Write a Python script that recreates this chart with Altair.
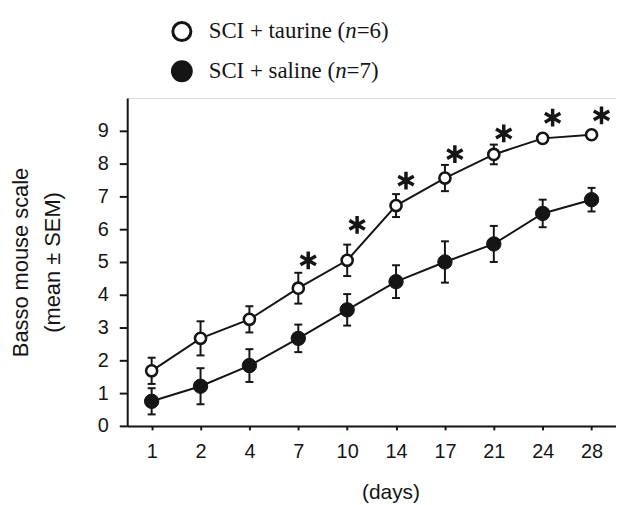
import altair as alt
import pandas as pd

# ---- data ----
days = ["1", "2", "4", "7", "10", "14", "17", "21", "24", "28"]
taurine_mean = [1.68, 2.67, 3.25, 4.20, 5.05, 6.72, 7.56, 8.28, 8.77, 8.88]
taurine_sem = [0.40, 0.52, 0.40, 0.47, 0.48, 0.35, 0.40, 0.30, 0.12, 0.12]
saline_mean = [0.75, 1.21, 1.84, 2.67, 3.54, 4.40, 5.00, 5.55, 6.48, 6.90]
saline_sem = [0.40, 0.55, 0.50, 0.42, 0.48, 0.50, 0.63, 0.55, 0.42, 0.36]
star_days = ["7", "10", "14", "17", "21", "24", "28"]
star_y = [5.05, 6.13, 7.48, 8.29, 8.92, 9.40, 9.47]
y_ticks = [0, 1, 2, 3, 4, 5, 6, 7, 8, 9]

INK = "#151515"
SANS = "Liberation Sans"
SERIF = "Liberation Serif"

rows = []
for d, m, s in zip(days, taurine_mean, taurine_sem):
    rows.append({"day": d, "group": "taurine", "mean": m, "lo": m - s, "hi": m + s})
for d, m, s in zip(days, saline_mean, saline_sem):
    rows.append({"day": d, "group": "saline", "mean": m, "lo": m - s, "hi": m + s})
df = pd.DataFrame(rows)
stars = pd.DataFrame({"day": star_days, "y": star_y})

x_scale = alt.Scale(type="point", padding=0.5)
x_axis = alt.Axis(
    title="(days)",
    labelAngle=0,
    labelFont=SANS,
    labelFontSize=20,
    labelColor=INK,
    labelPadding=12,
    tickSize=4,
    tickWidth=2,
    tickColor=INK,
    domainColor=INK,
    domainWidth=2,
    titleFont=SANS,
    titleFontSize=21,
    titleFontWeight="normal",
    titleColor=INK,
    titleX=265,
    titleY=56,
    titleAlign="center",
    titleBaseline="top",
    grid=False,
)
y_scale = alt.Scale(domain=[0, 10], nice=False, zero=True)
y_axis = alt.Axis(
    title=["Basso mouse scale", "(mean \u00b1 SEM)"],
    values=y_ticks,
    tickCount=10,
    labelOverlap=False,
    labelFont=SANS,
    labelFontSize=20,
    labelColor=INK,
    labelPadding=11,
    tickSize=8,
    tickWidth=2,
    tickColor=INK,
    domainColor=INK,
    domainWidth=2,
    titleFont=SANS,
    titleFontSize=22,
    titleFontWeight="normal",
    titleColor=INK,
    titleLineHeight=32,
    titleAngle=270,
    titleX=-117,
    titleY=165,
    titleAlign="center",
    titleBaseline="top",
    grid=False,
)


def X():
    return alt.X("day:O", sort=days, scale=x_scale, axis=x_axis)


def Y(field):
    return alt.Y(field, type="quantitative", scale=y_scale, axis=y_axis)


base = alt.Chart(df)

err = base.mark_rule(color=INK, strokeWidth=2).encode(x=X(), y=Y("lo"), y2="hi:Q")
cap_hi = base.mark_tick(color=INK, thickness=2, size=8, orient="horizontal", opacity=1).encode(
    x=X(), y=Y("hi")
)
cap_lo = base.mark_tick(color=INK, thickness=2, size=8, orient="horizontal", opacity=1).encode(
    x=X(), y=Y("lo")
)
lines = base.mark_line(color=INK, strokeWidth=2).encode(x=X(), y=Y("mean"), detail="group:N")
pts_sal = base.transform_filter(alt.datum.group == "saline").mark_point(
    shape="circle", filled=True, fill=INK, stroke=INK, strokeWidth=1, size=210, opacity=1
).encode(x=X(), y=Y("mean"))
pts_tau = base.transform_filter(alt.datum.group == "taurine").mark_point(
    shape="circle", filled=True, fill="white", stroke=INK, strokeWidth=2.6, size=125, opacity=1
).encode(x=X(), y=Y("mean"))

ASTERISK = "M0,-1L0,1M-0.87,-0.5L0.87,0.5M-0.87,0.5L0.87,-0.5"
star_layer = alt.Chart(stars).mark_point(
    shape=ASTERISK, filled=False, stroke=INK, strokeWidth=3.5, size=320, opacity=1, xOffset=10
).encode(x=X(), y=Y("y"))

# ---- manual legend (positions relative to plot origin) ----
leg_df = pd.DataFrame({"k": [0]})
leg = alt.Chart(leg_df)
leg_open = leg.mark_point(
    shape="circle", filled=True, fill="white", stroke=INK, strokeWidth=3, size=330, opacity=1
).encode(x=alt.value(55), y=alt.value(-67))
leg_fill = leg.mark_point(
    shape="circle", filled=True, fill=INK, stroke=INK, size=400, opacity=1
).encode(x=alt.value(55), y=alt.value(-27))

FS = 23


def txt(s, x, y, italic=False):
    return leg.mark_text(
        text=s, font=SERIF, fontSize=FS, color=INK, align="left", baseline="alphabetic",
        fontStyle="italic" if italic else "normal",
    ).encode(x=alt.value(x), y=alt.value(y))


w1 = 5.98 * FS
w2 = 5.536 * FS
leg_texts = [
    txt("SCI + taurine (", 82, -60),
    txt("n", 82 + w1, -60, italic=True),
    txt("=6)", 82 + w1 + 0.5 * FS, -60),
    txt("SCI + saline (", 82, -20),
    txt("n", 82 + w2, -20, italic=True),
    txt("=7)", 82 + w2 + 0.5 * FS, -20),
]

chart = alt.layer(
    err, cap_hi, cap_lo, lines, pts_sal, pts_tau, star_layer, leg_open, leg_fill, *leg_texts
).properties(
    width=492,
    height=330,
    autosize=alt.AutoSizeParams(type="none"),
    padding={"left": 120, "top": 89, "right": 0, "bottom": 80},
).configure_view(stroke=None).configure(background="white")

chart.save("out.html", embed_options={"renderer": "svg", "actions": False})
